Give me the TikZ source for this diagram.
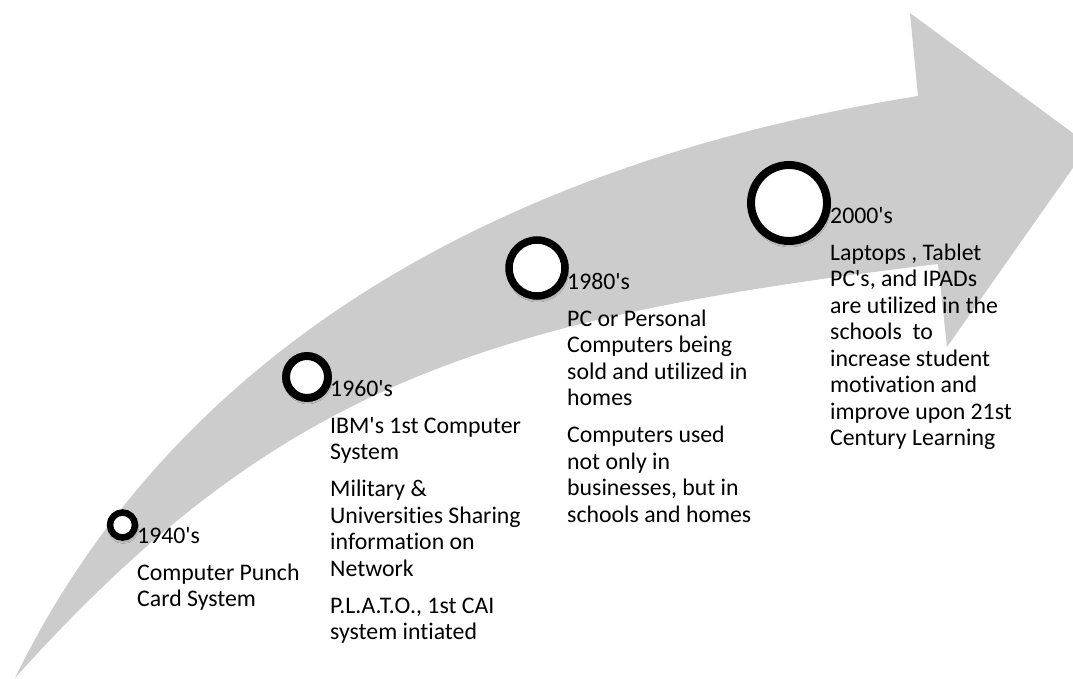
\documentclass[tikz,border=0pt]{standalone}
\usepackage{fontspec}
\newfontfamily\carl{Carlito}[Ligatures=CommonOff]
\usetikzlibrary{shadows.blur}
\newcommand\erabox[1]{\parbox[t]{280pt}{\raggedright #1}}
\begin{document}
\begin{tikzpicture}[x=1pt,y=-1pt,
  band/.style={fill=black!20},
  ring/.style={circle, draw=black, fill=white, inner sep=0pt,
    blur shadow={shadow xshift=0.8pt, shadow yshift=-3pt,
      shadow blur radius=3pt, shadow opacity=50, shadow scale=1}},
  era/.style={anchor=base west, inner sep=0pt,
    font=\carl\fontsize{23.8}{26.5}\selectfont},
]
\useasboundingbox (0,0) rectangle (1073,679);
\fill[white] (0,0) rectangle (1073,679);

% curved timeline arrow
\begin{scope}
  \clip (0,0) rectangle (1073,679);
  \fill[band] (15,678) .. controls (197,306) and (568,152) .. (918,96)
    -- (910,13) -- (1089,145) -- (947,347) -- (938,264)
    .. controls (488,318) and (279,384) .. (15,678) -- cycle;
\end{scope}

% milestone rings
\node[ring, minimum size=25pt, line width=6.5pt] (r1) at (122.5,525) {};
\node[ring, minimum size=42pt, line width=8pt]   (r2) at (307,377) {};
\node[ring, minimum size=56pt, line width=7.5pt] (r3) at (537,268) {};
\node[ring, minimum size=76pt, line width=8pt]   (r4) at (789,203) {};

% milestone texts
\node[era] (t1) at (137,543) {\erabox{1940's\par\vspace{10.5pt}
  Computer Punch\\Card System}};
\node[era] (t2) at (330,396) {\erabox{1960's\par\vspace{10.5pt}
  IBM's 1st Computer\\System\par\vspace{10.5pt}
  Military \&\\Universities Sharing\\information on\\Network\par\vspace{10.5pt}
  P.L.A.T.O., 1st CAI\\system intiated}};
\node[era] (t3) at (567,289) {\erabox{1980's\par\vspace{10.5pt}
  PC or Personal\\Computers being\\sold and utilized in\\homes\par\vspace{10.5pt}
  Computers used\\not only in\\businesses, but in\\schools and homes}};
\node[era] (t4) at (830,223) {\erabox{2000's\par\vspace{10.5pt}
  Laptops , Tablet\\PC's, and IPADs\\are utilized in the\\schools~~to\\increase student\\motivation and\\improve upon 21st\\Century Learning}};
\end{tikzpicture}
\end{document}
